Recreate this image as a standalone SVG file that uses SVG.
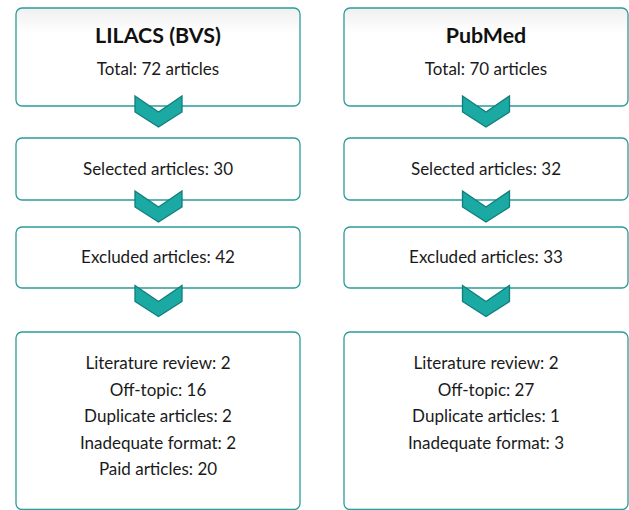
<svg xmlns="http://www.w3.org/2000/svg" width="629" height="510" viewBox="0 0 629 510">
<style>
.box{fill:#ffffff;stroke:#2a9c99;stroke-width:1.3}
.top{fill:url(#g)}
.t{font-family:Lato,"Noto Sans","Liberation Sans",sans-serif;font-size:17px;fill:#1a1a1a;text-anchor:middle}
.h{font-family:Lato,"Noto Sans","Liberation Sans",sans-serif;font-size:21.4px;font-weight:bold;fill:#111;text-anchor:middle}
.chev{fill:#1ba9a4;stroke:#117e7b;stroke-width:1.3;stroke-linejoin:miter}
</style>
<defs>
<linearGradient id="g" x1="0" y1="0" x2="0" y2="1">
<stop offset="0" stop-color="#efefef"/>
<stop offset="0.25" stop-color="#ffffff"/>
<stop offset="1" stop-color="#ffffff"/>
</linearGradient>
<polygon id="chevron" points="-23.5,0 0,16 23.5,0 23.5,16 0,31 -23.5,16"/>
</defs>
<g id="lilacs-total"><rect class="box top" x="16" y="8" width="284" height="98" rx="6"/><text class="h" x="158" y="43">LILACS (BVS)</text><text class="t" x="158" y="75">Total: 72 articles</text></g>
<g id="lilacs-selected"><rect class="box" x="16" y="138" width="284" height="62" rx="6"/><text class="t" x="158" y="175">Selected articles: 30</text></g>
<g id="lilacs-excluded"><rect class="box" x="16" y="227" width="284" height="61" rx="6"/><text class="t" x="158" y="263">Excluded articles: 42</text></g>
<g id="lilacs-reasons"><rect class="box" x="16" y="332" width="284" height="177.5" rx="6"/>
<text class="t" x="158" y="369">Literature review: 2</text>
<text class="t" x="158" y="395.5">Off-topic: 16</text>
<text class="t" x="158" y="422">Duplicate articles: 2</text>
<text class="t" x="158" y="448.5">Inadequate format: 2</text>
<text class="t" x="158" y="475">Paid articles: 20</text></g>
<g id="pubmed-total"><rect class="box top" x="344" y="8" width="284" height="98" rx="6"/><text class="h" x="486" y="43">PubMed</text><text class="t" x="486" y="75">Total: 70 articles</text></g>
<g id="pubmed-selected"><rect class="box" x="344" y="138" width="284" height="62" rx="6"/><text class="t" x="486" y="175">Selected articles: 32</text></g>
<g id="pubmed-excluded"><rect class="box" x="344" y="227" width="284" height="61" rx="6"/><text class="t" x="486" y="263">Excluded articles: 33</text></g>
<g id="pubmed-reasons"><rect class="box" x="344" y="332" width="284" height="177.5" rx="6"/>
<text class="t" x="486" y="369">Literature review: 2</text>
<text class="t" x="486" y="395.5">Off-topic: 27</text>
<text class="t" x="486" y="422">Duplicate articles: 1</text>
<text class="t" x="486" y="448.5">Inadequate format: 3</text></g>
<g id="connectors">
<use href="#chevron" class="chev" x="158.5" y="96"/>
<use href="#chevron" class="chev" x="158.5" y="191"/>
<use href="#chevron" class="chev" x="158.5" y="285.5"/>
<use href="#chevron" class="chev" x="486" y="96"/>
<use href="#chevron" class="chev" x="486" y="191"/>
<use href="#chevron" class="chev" x="486" y="285.5"/>
</g>
</svg>
